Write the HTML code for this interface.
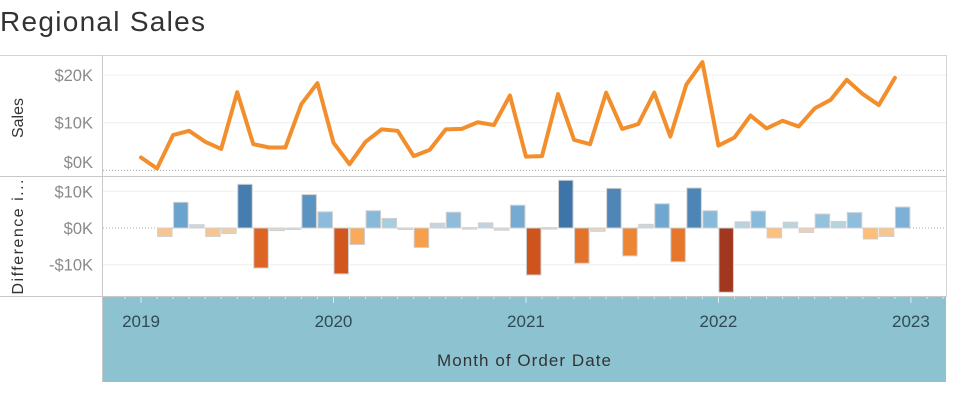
<!DOCTYPE html>
<html><head><meta charset="utf-8"><style>
body{margin:0;background:#fff;width:967px;height:412px;overflow:hidden;font-family:"Liberation Sans",sans-serif}
svg{position:absolute;left:0;top:0}
</style></head><body>
<svg id="c" width="967" height="412">
<text x="0" y="31" font-size="28" textLength="205" fill="#333">Regional Sales</text>
<rect x="102" y="297" width="844" height="85" fill="#8dc3d1"/>
<line x1="0" y1="55.5" x2="946" y2="55.5" stroke="#d4d4d4"/>
<line x1="0" y1="176.5" x2="946" y2="176.5" stroke="#c8c8c8"/>
<line x1="0" y1="296.5" x2="946" y2="296.5" stroke="#c8c8c8"/>
<line x1="102.5" y1="55" x2="102.5" y2="382" stroke="#c8c8c8"/>
<line x1="946.5" y1="55" x2="946.5" y2="297" stroke="#d4d4d4"/>
<text transform="translate(23,118) rotate(-90)" text-anchor="middle" font-size="16" fill="#333">Sales</text>
<text transform="translate(23,237) rotate(-90)" text-anchor="middle" font-size="16" textLength="115" fill="#333">Difference i...</text>
<text x="524" y="366" text-anchor="middle" font-size="17" textLength="174" fill="#333">Month of Order Date</text>
<g id="g"></g>
</svg>
<script>
const years=[2019,2020,2021,2022,2023];
const sales=[2.7,0.4,7.4,8.3,6.0,4.5,16.4,5.5,4.8,4.8,13.9,18.3,
5.8,1.3,6.0,8.6,8.3,3.0,4.3,8.6,8.7,10.1,9.5,15.7,
2.9,3.0,16.0,6.4,5.5,16.3,8.7,9.7,16.3,7.1,18.0,22.7,
5.2,6.9,11.5,8.8,10.4,9.2,13.0,14.8,19.0,16.0,13.7,19.4];
const salesTicks=[0,10,20];
const diffTicks=[-10,0,10];
const NS='http://www.w3.org/2000/svg';
const g=document.getElementById('g');
function mk(t,a,p){const e=document.createElementNS(NS,t);for(const k in a)e.setAttribute(k,a[k]);(p||g).appendChild(e);return e;}
const xM=i=>141+i*16.04;
const yS=v=>170.4-v*4.77;
const yD=v=>228-v*3.67;
salesTicks.forEach(t=>{
 if(t!==0)mk('line',{x1:103,x2:946,y1:yS(t),y2:yS(t),stroke:'#efefef'});
 const tx=mk('text',{x:93,y:Math.min(yS(t)+6,168),'text-anchor':'end','font-size':16.5,fill:'#8a8a8a'});tx.textContent='$'+t+'K';
 
 
});
mk('line',{x1:103,x2:946,y1:yS(0),y2:yS(0),stroke:'#aaa','stroke-dasharray':'1,2'});
diffTicks.forEach(t=>{
 if(t!==0)mk('line',{x1:103,x2:946,y1:yD(t),y2:yD(t),stroke:'#efefef'});
 const tx=mk('text',{x:93,y:yD(t)+6,'text-anchor':'end','font-size':16.5,fill:'#8a8a8a'});tx.textContent=(t<0?'-$'+(-t):'$'+t)+'K';
 
 
});
mk('line',{x1:103,x2:946,y1:yD(0),y2:yD(0),stroke:'#aaa','stroke-dasharray':'1,2'});
function col(d){
 const stops=d>=0?[[0,[221,221,221]],[3,[158,202,225]],[7,[107,163,207]],[13,[62,117,168]]]
 :[[0,[221,221,221]],[3,[253,190,120]],[6,[245,150,60]],[12,[215,90,30]],[17,[160,55,30]]];
 const a=Math.abs(d);for(let i=1;i<stops.length;i++){if(a<=stops[i][0]||i==stops.length-1){const [x0,c0]=stops[i-1],[x1,c1]=stops[i];const f=Math.min(1,(a-x0)/(x1-x0));return 'rgb('+c0.map((c,j)=>Math.round(c+(c1[j]-c)*f)).join(',')+')';}}
}
for(let i=1;i<sales.length;i++){
 const d=sales[i]-sales[i-1];const y0=yD(0),y1=yD(d);
 const r=mk('rect',{x:xM(i)+0.5,y:Math.min(y0,y1),width:14.5,height:Math.max(1.5,Math.abs(y1-y0)),fill:col(d),stroke:'#d0d0d0','stroke-width':1});
 
 
}
const pl=mk('polyline',{points:sales.map((v,i)=>xM(i)+','+yS(v)).join(' '),fill:'none',stroke:'#f28e2b','stroke-width':4,'stroke-linejoin':'round','stroke-linecap':'round'});


for(let i=0;i<53;i++){const x=xM(i-1)+0;if(x>103&&x<946)mk('line',{x1:x,x2:x,y1:297,y2:i%12==1?303:299,stroke:'#d8eef3','stroke-width':1});}
years.forEach((y,k)=>{
 const tx=mk('text',{x:xM(k*12),y:327,'text-anchor':'middle','font-size':17,fill:'#2f4a55'});tx.textContent=y;
 
 
});
</script>
</body></html>
